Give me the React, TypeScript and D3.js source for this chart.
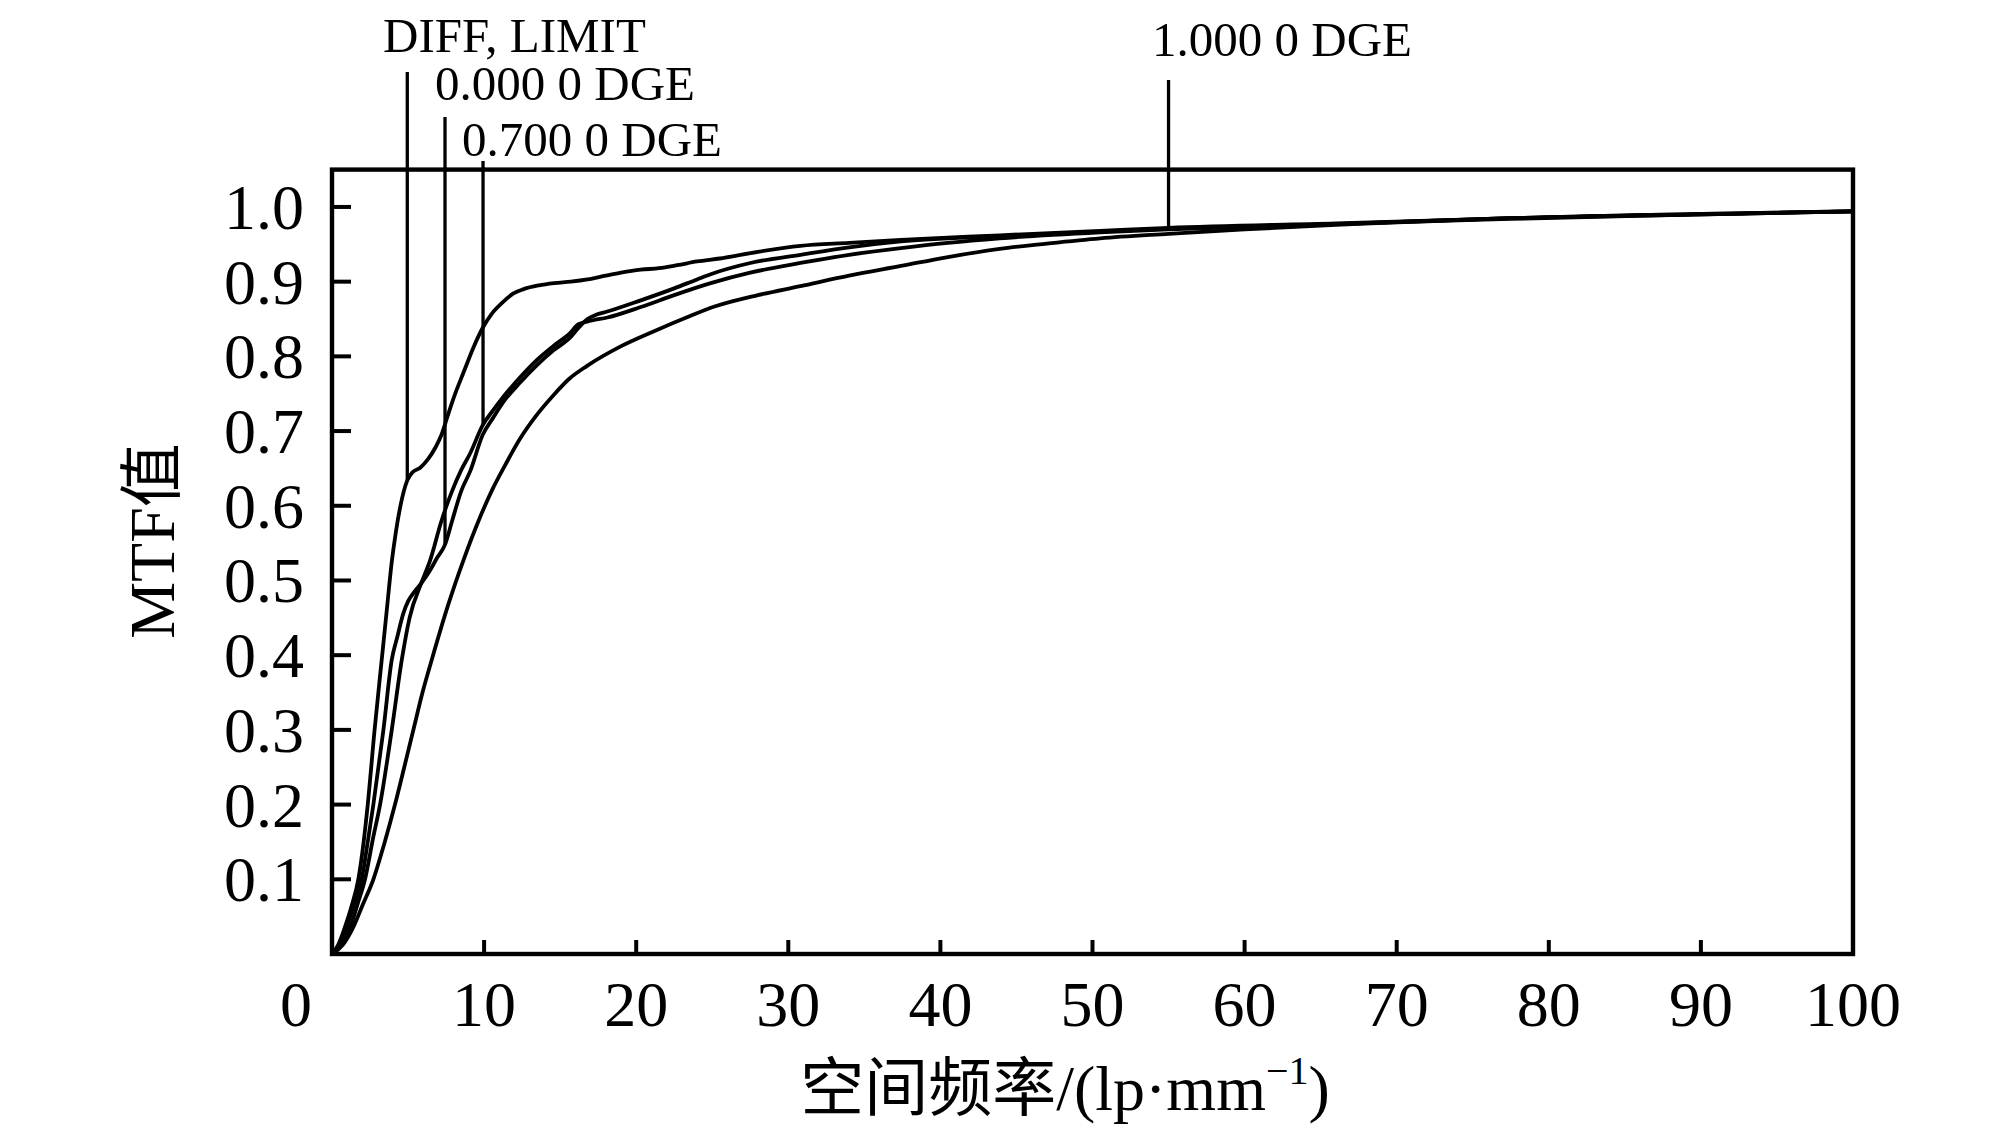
import React from 'react';
import * as d3 from 'd3';

// frequency (lp/mm) and MTF values
const diffFreq = [0, 0.4, 0.8, 1.3, 1.73, 2.05, 2.35, 2.8, 3.27, 3.6, 3.93, 4.2, 4.5, 4.95, 5.3, 5.8, 6.3, 6.8, 7.2, 7.6, 8.1, 8.64, 9.3, 9.93, 10.5, 11.2, 11.9, 12.6, 13.6, 14.6, 15.7, 16.8, 18, 19, 20.3, 21.5, 22.7, 24, 25.5, 28, 30.8, 34, 37.4, 43.9, 50.5, 55, 66, 77.5, 100];
const diffMtf = [0, 0.012, 0.033, 0.065, 0.1, 0.145, 0.2, 0.3, 0.394, 0.46, 0.525, 0.565, 0.6, 0.634, 0.645, 0.651, 0.662, 0.678, 0.695, 0.72, 0.75, 0.778, 0.812, 0.839, 0.857, 0.872, 0.884, 0.89, 0.895, 0.898, 0.9, 0.903, 0.908, 0.912, 0.916, 0.918, 0.922, 0.927, 0.931, 0.94, 0.948, 0.952, 0.956, 0.962, 0.968, 0.972, 0.978, 0.985, 0.994];

const dge0Freq = [0, 0.5, 0.97, 1.5, 1.95, 2.35, 2.72, 3.38, 3.93, 4.3, 4.69, 5.0, 5.35, 5.9, 6.4, 6.9, 7.43, 7.9, 8.5, 9.08, 9.91, 10.6, 11.27, 12.37, 13.46, 14.56, 15.65, 16.2, 16.8, 17.4, 18.1, 20.3, 22.5, 24, 24.9, 27.5, 30.8, 34, 37.4, 43.9, 50.5, 55, 66, 77.5, 100];
const dge0Mtf = [0, 0.012, 0.036, 0.07, 0.1, 0.15, 0.2, 0.3, 0.394, 0.425, 0.456, 0.472, 0.483, 0.497, 0.512, 0.53, 0.548, 0.58, 0.62, 0.646, 0.695, 0.718, 0.739, 0.765, 0.788, 0.808, 0.825, 0.838, 0.85, 0.856, 0.86, 0.875, 0.891, 0.903, 0.91, 0.925, 0.936, 0.946, 0.954, 0.961, 0.967, 0.971, 0.977, 0.985, 0.994];

const dge07Freq = [0, 0.6, 1.2, 1.7, 2.17, 2.7, 3.16, 3.93, 4.59, 5.1, 5.9, 6.45, 7.2, 7.9, 8.5, 9.08, 9.91, 10.6, 11.27, 12.37, 13.46, 14.56, 15.65, 16.2, 17.1, 18.1, 20.3, 22.5, 24.9, 27.5, 30.8, 34, 37.4, 40.5, 43.9, 50.5, 55, 66, 77.5, 100];
const dge07Mtf = [0, 0.012, 0.036, 0.068, 0.1, 0.155, 0.2, 0.3, 0.394, 0.45, 0.498, 0.527, 0.58, 0.62, 0.648, 0.67, 0.708, 0.728, 0.746, 0.772, 0.795, 0.814, 0.831, 0.843, 0.848, 0.852, 0.866, 0.882, 0.898, 0.912, 0.925, 0.936, 0.945, 0.952, 0.958, 0.966, 0.97, 0.977, 0.985, 0.994];

const dge1Freq = [0, 0.7, 1.4, 2.0, 2.72, 3.4, 4.14, 4.75, 5.35, 5.95, 6.56, 7.6, 8.64, 9.74, 10.5, 11.4, 12.37, 13.4, 14.56, 15.6, 16.75, 18.95, 21.1, 23.3, 25.2, 28, 30.8, 34, 37.4, 40.5, 43.9, 47, 50.5, 55, 60, 66, 77.5, 88, 100];
const dge1Mtf = [0, 0.012, 0.036, 0.065, 0.1, 0.145, 0.2, 0.25, 0.3, 0.35, 0.394, 0.465, 0.527, 0.585, 0.62, 0.655, 0.69, 0.72, 0.748, 0.77, 0.787, 0.813, 0.833, 0.852, 0.867, 0.882, 0.894, 0.908, 0.921, 0.933, 0.944, 0.951, 0.958, 0.964, 0.97, 0.976, 0.984, 0.989, 0.994];

const curves = [
  { freq: diffFreq, mtf: diffMtf },
  { freq: dge0Freq, mtf: dge0Mtf },
  { freq: dge07Freq, mtf: dge07Mtf },
  { freq: dge1Freq, mtf: dge1Mtf },
];

// leader labels: text, frequency the leader sits at, MTF where it stops
const labelNames = ['DIFF, LIMIT', '0.000 0 DGE', '0.700 0 DGE', '1.000 0 DGE'];
const labelFreq = [4.95, 7.43, 9.93, 55];
const labelEnd = [0.634, 0.548, 0.707, 0.972];

const xTicks = [0, 10, 20, 30, 40, 50, 60, 70, 80, 90, 100];
const yTicks = [0.1, 0.2, 0.3, 0.4, 0.5, 0.6, 0.7, 0.8, 0.9, 1.0];

const W = 2008;
const H = 1134;
const left = 332;
const right = 1853;
const top = 169.6;
const bottom = 954;

const FONT = "'Liberation Serif', 'Times New Roman', 'Noto Sans CJK SC', serif";

export default function App() {
  const x = d3.scaleLinear().domain([0, 100]).range([left, right]);
  const y = d3.scaleLinear().domain([0, 1.05]).range([bottom, top]);

  const line = d3
    .line<[number, number]>()
    .x(d => x(d[0]))
    .y(d => y(d[1]))
    .curve(d3.curveMonotoneX);

  // where each label's text and leader begin
  const textX = [383, 435, 462, 1152];
  const textY = [52, 100, 156, 56];
  const leadTop = [72, 117, 161, 80];

  return (
    <svg
      width={W}
      height={H}
      style={{ position: 'absolute', left: 0, top: 0, background: '#fff' }}
      fontFamily={FONT}
    >
      <rect x={0} y={0} width={W} height={H} fill="#fff" />

      {curves.map((c, i) => (
        <path
          key={i}
          d={line(c.freq.map((f, j) => [f, c.mtf[j]] as [number, number])) || ''}
          fill="none"
          stroke="#000"
          strokeWidth={3.8}
          strokeLinejoin="round"
        />
      ))}

      {labelNames.map((name, i) => (
        <g key={name}>
          <line
            x1={x(labelFreq[i])}
            x2={x(labelFreq[i])}
            y1={leadTop[i]}
            y2={y(labelEnd[i])}
            stroke="#000"
            strokeWidth={3.3}
          />
          <text x={textX[i]} y={textY[i]} fontSize={49} fill="#000">
            {name}
          </text>
        </g>
      ))}

      <rect
        x={left}
        y={top}
        width={right - left}
        height={bottom - top}
        fill="none"
        stroke="#000"
        strokeWidth={4.4}
      />

      {yTicks.map(t => (
        <g key={t}>
          <line x1={left} x2={left + 19} y1={y(t)} y2={y(t)} stroke="#000" strokeWidth={4} />
          <text x={304} y={y(t) + 22} textAnchor="end" fontSize={64} fill="#000">
            {t.toFixed(1)}
          </text>
        </g>
      ))}

      {xTicks.map(t => (
        <g key={t}>
          {t > 0 && t < 100 && (
            <line x1={x(t)} x2={x(t)} y1={bottom} y2={bottom - 14} stroke="#000" strokeWidth={4} />
          )}
          <text
            x={t === 0 ? x(t) - 36 : x(t)}
            y={1026}
            textAnchor="middle"
            fontSize={64}
            fill="#000"
          >
            {t}
          </text>
        </g>
      ))}

      <text
        transform={`translate(174,541) rotate(-90)`}
        textAnchor="middle"
        fontSize={64}
        fill="#000"
      >
        MTF值
      </text>

      <text x={1065} y={1110} textAnchor="middle" fontSize={64} fill="#000">
        空间频率/(lp·mm
        <tspan fontSize={40} dy={-26}>−1</tspan>
        <tspan dy={26}>)</tspan>
      </text>
    </svg>
  );
}
